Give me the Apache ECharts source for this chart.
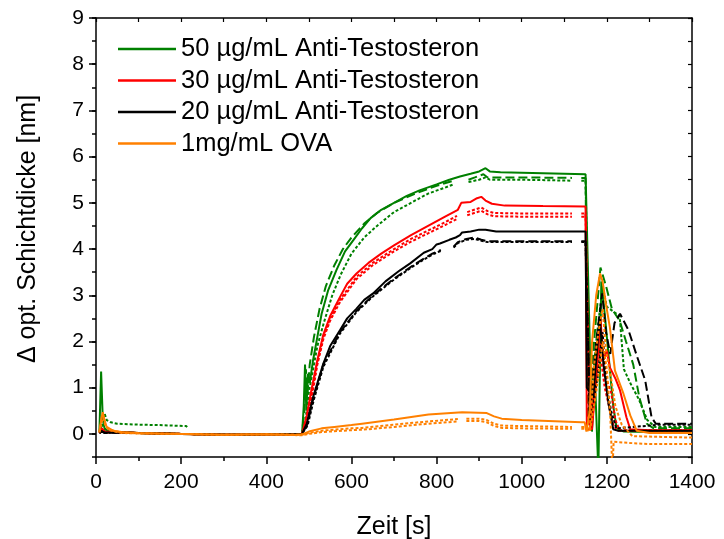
<!DOCTYPE html>
<html>
<head>
<meta charset="utf-8">
<script src="https://cdn.jsdelivr.net/npm/echarts@6/dist/echarts.min.js"></script>
<style>
  html, body { margin: 0; padding: 0; background: #fff; }
  #chart { width: 724px; height: 539px; }
</style>
</head>
<body>
<div id="chart"></div>
<script>
// Axis ticks and labels
const xTicks = [0, 200, 400, 600, 800, 1000, 1200, 1400];
const yTickValues = [0, 1, 2, 3, 4, 5, 6, 7, 8, 9];

// Legend entries
const seriesNames = [
  '50 µg/mL Anti-Testosteron',
  '30 µg/mL Anti-Testosteron',
  '20 µg/mL Anti-Testosteron',
  '1mg/mL OVA'
];

// Shared baseline before antibody injection [time s, thickness nm]
const baseline = [[60,0.03],[100,0.02],[150,0.01],[200,0.0],[250,-0.01],[300,-0.02],[350,-0.02],[400,-0.01],[450,-0.01],[484,0]];

// 50 µg/mL — three runs
const green50Run1 = [[8,0.05],[12,1.35],[16,0.3],[20,0.12],[30,0.05],...baseline,
  [488,0.6],[491,1.5],[494,0.5],[498,1.3],[502,1.1],[510,1.6],[520,2.1],[530,2.6],[545,3.1],[565,3.55],[585,3.95],[605,4.2],[625,4.45],[645,4.67],[670,4.85],[700,5.0],[730,5.15],[760,5.27],[800,5.4],[830,5.5],[855,5.57],[880,5.63],[900,5.68],[915,5.75],[925,5.68],[950,5.66],[1000,5.65],[1050,5.64],[1100,5.63],[1150,5.62],
  [1165,0.05],[1172,1.2],[1180,-0.8],[1183,-0.8],[1187,3.3],[1195,2.6],[1207,1.4],[1215,0.6],[1223,0.12],[1240,0.05],[1300,0.04],[1400,0.04]];
const green50Run2 = [[8,0.03],[14,0.2],[20,0.06],...baseline,
  [489,0.5],[493,1.4],[497,0.9],[502,1.5],[512,2.1],[525,2.7],[540,3.2],[560,3.65],[580,4.0],[600,4.25],[630,4.55],[660,4.78],[700,5.0],[750,5.2],[800,5.37],[840,5.48],null,[875,5.5],[890,5.55],[910,5.62],[920,5.55],[1000,5.55],[1118,5.54],null,[1140,5.54],[1150,5.54],
  [1155,0.2],[1170,2.0],[1185,3.6],[1198,3.2],[1212,2.7],[1230,2.45],[1245,2.0],[1262,1.5],[1276,0.8],[1294,0.22],[1310,0.12],[1400,0.12]];
const green50Run3 = [[10,0.05],[16,0.25],[20,0.45],[25,0.3],[35,0.25],[50,0.22],[100,0.2],[150,0.19],[212,0.17],[216,0.12],null,[260,-0.01],[300,-0.02],[400,-0.01],[484,0],
  [492,0.3],[500,0.9],[510,1.4],[520,1.9],[535,2.4],[555,3.0],[575,3.45],[600,3.9],[630,4.25],[660,4.5],[700,4.8],[740,5.0],[780,5.2],[820,5.33],[840,5.4],null,[875,5.45],[900,5.5],[915,5.55],[925,5.5],[1000,5.5],[1118,5.48],null,[1140,5.48],[1150,5.48],
  [1160,0.5],[1175,2.0],[1190,3.2],[1200,2.75],[1215,2.65],[1230,2.55],[1240,1.4],[1255,1.1],[1275,0.75],[1295,0.3],[1313,0.15],[1400,0.15]];

// 30 µg/mL — three runs
const red30Run1 = [[8,0.02],[14,0.12],[20,0.05],...baseline,
  [495,0.4],[505,0.9],[520,1.6],[534,2.15],[550,2.55],[573,2.96],[590,3.25],[612,3.47],[640,3.7],[670,3.9],[700,4.08],[740,4.3],[780,4.5],[820,4.7],[850,4.85],[858,5.0],[880,5.02],[895,5.1],[905,5.13],[915,5.05],[930,4.98],[960,4.94],[1050,4.93],[1150,4.92],
  [1153,0.1],[1165,0.1],[1175,1.2],[1185,2.5],[1192,1.6],[1200,1.8],[1207,1.44],[1220,1.2],[1231,0.94],[1246,0.36],[1255,0.1],[1300,0.08],[1400,0.08]];
const red30Run2 = [[8,0.02],[14,0.1],[20,0.04],...baseline,
  [496,0.35],[506,0.85],[520,1.55],[534,2.1],[550,2.5],[573,2.9],[612,3.4],[650,3.7],[700,4.0],[740,4.22],[780,4.4],[820,4.58],[848,4.72],null,[872,4.8],[885,4.84],[905,4.9],[920,4.82],[935,4.78],[1000,4.77],[1118,4.77],null,[1140,4.77],[1150,4.77],
  [1160,0.2],[1175,1.5],[1188,2.0],[1198,1.2],[1210,0.9],[1220,0.3],[1230,0.08],[1400,0.08]];
const red30Run3 = [[8,0.02],[14,0.08],[20,0.03],...baseline,
  [497,0.3],[508,0.85],[520,1.5],[534,2.05],[550,2.45],[573,2.85],[612,3.35],[650,3.65],[700,3.95],[740,4.16],[780,4.34],[820,4.52],[848,4.65],null,[872,4.73],[885,4.77],[905,4.83],[920,4.75],[935,4.71],[1000,4.7],[1118,4.7],null,[1140,4.7],[1150,4.7],
  [1160,0.1],[1172,1.0],[1185,1.7],[1195,1.0],[1205,0.6],[1215,0.2],[1225,0.07],[1400,0.07]];

// 20 µg/mL — three runs
const black20Run1 = [[8,0.02],[14,0.06],[20,0.03],...baseline,
  [495,0.22],[510,0.8],[534,1.52],[550,1.9],[573,2.24],[590,2.5],[612,2.71],[630,2.9],[651,3.04],[680,3.3],[714,3.54],[738,3.69],[770,3.92],[790,4.0],[800,4.1],[808,4.12],[830,4.2],[845,4.25],[855,4.3],[860,4.36],[880,4.38],[900,4.42],[915,4.42],[940,4.38],[1000,4.38],[1150,4.38],
  [1153,1.0],[1168,0.79],[1183,2.53],[1192,1.5],[1204,0.65],[1215,0.1],[1225,0.07],[1400,0.07]];
const black20Run2 = [[8,0.02],[14,0.05],[20,0.02],...baseline,
  [496,0.2],[510,0.75],[534,1.5],[573,2.2],[612,2.66],[651,3.0],[700,3.36],[750,3.68],[790,3.9],[810,3.98],null,[840,4.05],[850,4.15],[870,4.22],[890,4.25],[905,4.2],[920,4.17],[1000,4.17],[1118,4.17],null,[1140,4.17],[1150,4.17],
  [1160,0.5],[1175,2.0],[1189,3.04],[1198,2.2],[1208,1.73],[1218,2.4],[1231,2.6],[1251,2.24],[1270,1.7],[1290,1.16],[1305,0.36],[1315,0.22],[1400,0.22]];
const black20Run3 = [[8,0.02],[14,0.05],[20,0.02],...baseline,
  [497,0.18],[512,0.75],[534,1.45],[573,2.17],[612,2.64],[651,2.98],[700,3.34],[750,3.66],[790,3.88],[810,3.96],null,[840,4.03],[850,4.13],[870,4.2],[890,4.22],[905,4.18],[920,4.15],[1000,4.15],[1118,4.15],null,[1140,4.15],[1150,4.15],
  [1160,0.3],[1178,1.2],[1190,2.2],[1200,1.0],[1210,0.5],[1222,0.12],[1300,0.18],[1320,0.2],[1400,0.2]];

// 1 mg/mL OVA — three runs
const orangeOvaRun1 = [[8,0.05],[13,0.35],[16,0.47],[20,0.3],[25,0.15],[40,0.07],[60,0.04],[100,0.02],[200,0.0],[300,-0.02],[400,-0.01],[470,-0.02],[484,-0.01],
  [500,0.05],[530,0.12],[560,0.15],[600,0.19],[625,0.22],[700,0.31],[781,0.42],[860,0.47],[918,0.45],[935,0.38],[953,0.33],[1000,0.3],[1141,0.25],[1148,0.25],
  [1152,0.05],[1160,0.5],[1165,1.96],[1175,3.0],[1184,3.47],[1190,3.3],[1198,2.8],[1207,2.31],[1219,1.37],[1239,0.87],[1255,0.4],[1270,0.07],[1300,0.02],[1400,0.02]];
const orangeOvaRun2 = [[8,0.04],[13,0.3],[17,0.4],[22,0.2],[30,0.1],[60,0.03],[100,0.01],[200,0.0],[300,-0.02],[400,-0.01],[484,-0.02],
  [500,0.02],[530,0.07],[600,0.12],[625,0.13],[700,0.2],[780,0.27],[850,0.32],null,[870,0.33],[900,0.33],[918,0.3],[935,0.22],[953,0.18],[1000,0.17],[1118,0.15],null,[1140,0.15],[1150,0.15],
  [1160,0.1],[1170,1.5],[1180,2.2],[1190,2.7],[1198,1.8],[1210,1.2],[1220,0.6],[1235,0.2],[1260,-0.05],[1400,-0.08]];
const orangeOvaRun3 = [[8,0.03],[13,0.25],[17,0.35],[22,0.18],[30,0.08],[60,0.02],[100,0.01],[200,0.0],[300,-0.02],[400,-0.01],[484,-0.03],
  [500,0.0],[530,0.04],[600,0.08],[625,0.09],[700,0.15],[780,0.22],[850,0.27],null,[870,0.28],[900,0.28],[918,0.25],[935,0.17],[953,0.13],[1000,0.12],[1118,0.11],null,[1140,0.11],[1150,0.11],
  [1160,0.05],[1175,0.9],[1190,2.0],[1200,1.4],[1208,0.4],[1213,-0.8],[1215,-0.8],[1216,-0.17],[1260,-0.2],[1300,-0.22],[1400,-0.22]];

const GREEN = '#008000', RED = '#ff0000', BLACK = '#000000', ORANGE = '#ff8000';
const SOLID = 'solid', LONG_DASH = [9, 4], SHORT_DASH = [3, 2];

function run(name, data, color, dash) {
  return {
    type: 'line', name: name, data: data, symbol: 'none', showSymbol: false,
    lineStyle: { color: color, width: 2, type: dash, cap: 'butt' },
    itemStyle: { color: color },
    xAxisIndex: 0, yAxisIndex: 0, animation: false
  };
}

const FONT = 'Liberation Sans, Arial, sans-serif';

const chart = echarts.init(document.getElementById('chart'), null, { renderer: 'canvas' });
chart.setOption({
  animation: false,
  backgroundColor: '#fff',
  grid: { left: 96, right: 32, top: 18, bottom: 82, containLabel: false, outerBoundsMode: 'none' },
  legend: {
    data: seriesNames,
    orient: 'vertical',
    left: 113, top: 31,
    icon: 'rect',
    itemWidth: 58, itemHeight: 2.5, itemGap: 5.5,
    textStyle: { fontFamily: FONT, fontSize: 25.5, color: '#000' },
    selectedMode: false
  },
  xAxis: [
    {
      type: 'value', position: 'bottom', min: 0, max: 1400, interval: 200,
      name: 'Zeit [s]', nameLocation: 'middle', nameGap: 58,
      nameTextStyle: { fontFamily: FONT, fontSize: 25, color: '#000' },
      axisLine: { show: true, onZero: false, lineStyle: { color: '#000', width: 1.5 } },
      axisTick: { show: true, inside: false, length: 7, lineStyle: { color: '#000', width: 1.5 } },
      minorTick: { show: true, splitNumber: 2, length: 4, lineStyle: { color: '#000', width: 1.5 } },
      axisLabel: { fontFamily: FONT, fontSize: 21, color: '#000', margin: 15,
                   formatter: v => xTicks.includes(v) ? String(v) : '' },
      splitLine: { show: false }
    },
    {
      type: 'value', position: 'top', min: 0, max: 1400, interval: 100,
      axisLine: { show: true, onZero: false, lineStyle: { color: '#000', width: 1.5 } },
      axisTick: { show: true, inside: true, length: 4, lineStyle: { color: '#000', width: 1.2 } },
      axisLabel: { show: false }, splitLine: { show: false }
    }
  ],
  yAxis: [
    {
      type: 'value', position: 'left', min: -0.5, max: 9,
      name: 'Δ opt. Schichtdicke [nm]', nameLocation: 'middle', nameGap: 55, nameRotate: 90,
      nameTextStyle: { fontFamily: FONT, fontSize: 25, color: '#000', padding: [0, 0, 0, 17] },
      axisLine: { show: true, onZero: false, lineStyle: { color: '#000', width: 1.5 } },
      axisTick: { show: true, inside: false, length: 7, customValues: yTickValues, lineStyle: { color: '#000', width: 1.5 } },
      axisLabel: { fontFamily: FONT, fontSize: 21, color: '#000', margin: 12, customValues: yTickValues },
      splitLine: { show: false }
    },
    {
      type: 'value', position: 'right', min: -0.5, max: 9, interval: 0.5,
      axisLine: { show: true, onZero: false, lineStyle: { color: '#000', width: 1.5 } },
      axisTick: { show: true, inside: true, length: 4, lineStyle: { color: '#000', width: 1.2 } },
      axisLabel: { show: false }, splitLine: { show: false }
    },
    {
      type: 'value', position: 'left', min: -0.5, max: 9, interval: 0.5,
      axisLine: { show: false },
      axisTick: { show: true, inside: false, length: 4, lineStyle: { color: '#000', width: 1.5 } },
      axisLabel: { show: false }, splitLine: { show: false }
    }
  ],
  series: [
    run(seriesNames[0] + ' (2)', green50Run2, GREEN, LONG_DASH),
    run(seriesNames[0] + ' (3)', green50Run3, GREEN, SHORT_DASH),
    run(seriesNames[0], green50Run1, GREEN, SOLID),
    run(seriesNames[1] + ' (2)', red30Run2, RED, SHORT_DASH),
    run(seriesNames[1] + ' (3)', red30Run3, RED, SHORT_DASH),
    run(seriesNames[1], red30Run1, RED, SOLID),
    run(seriesNames[2] + ' (2)', black20Run2, BLACK, LONG_DASH),
    run(seriesNames[2] + ' (3)', black20Run3, BLACK, SHORT_DASH),
    run(seriesNames[2], black20Run1, BLACK, SOLID),
    run(seriesNames[3] + ' (2)', orangeOvaRun2, ORANGE, SHORT_DASH),
    run(seriesNames[3] + ' (3)', orangeOvaRun3, ORANGE, SHORT_DASH),
    run(seriesNames[3], orangeOvaRun1, ORANGE, SOLID)
  ]
});
</script>
</body>
</html>
